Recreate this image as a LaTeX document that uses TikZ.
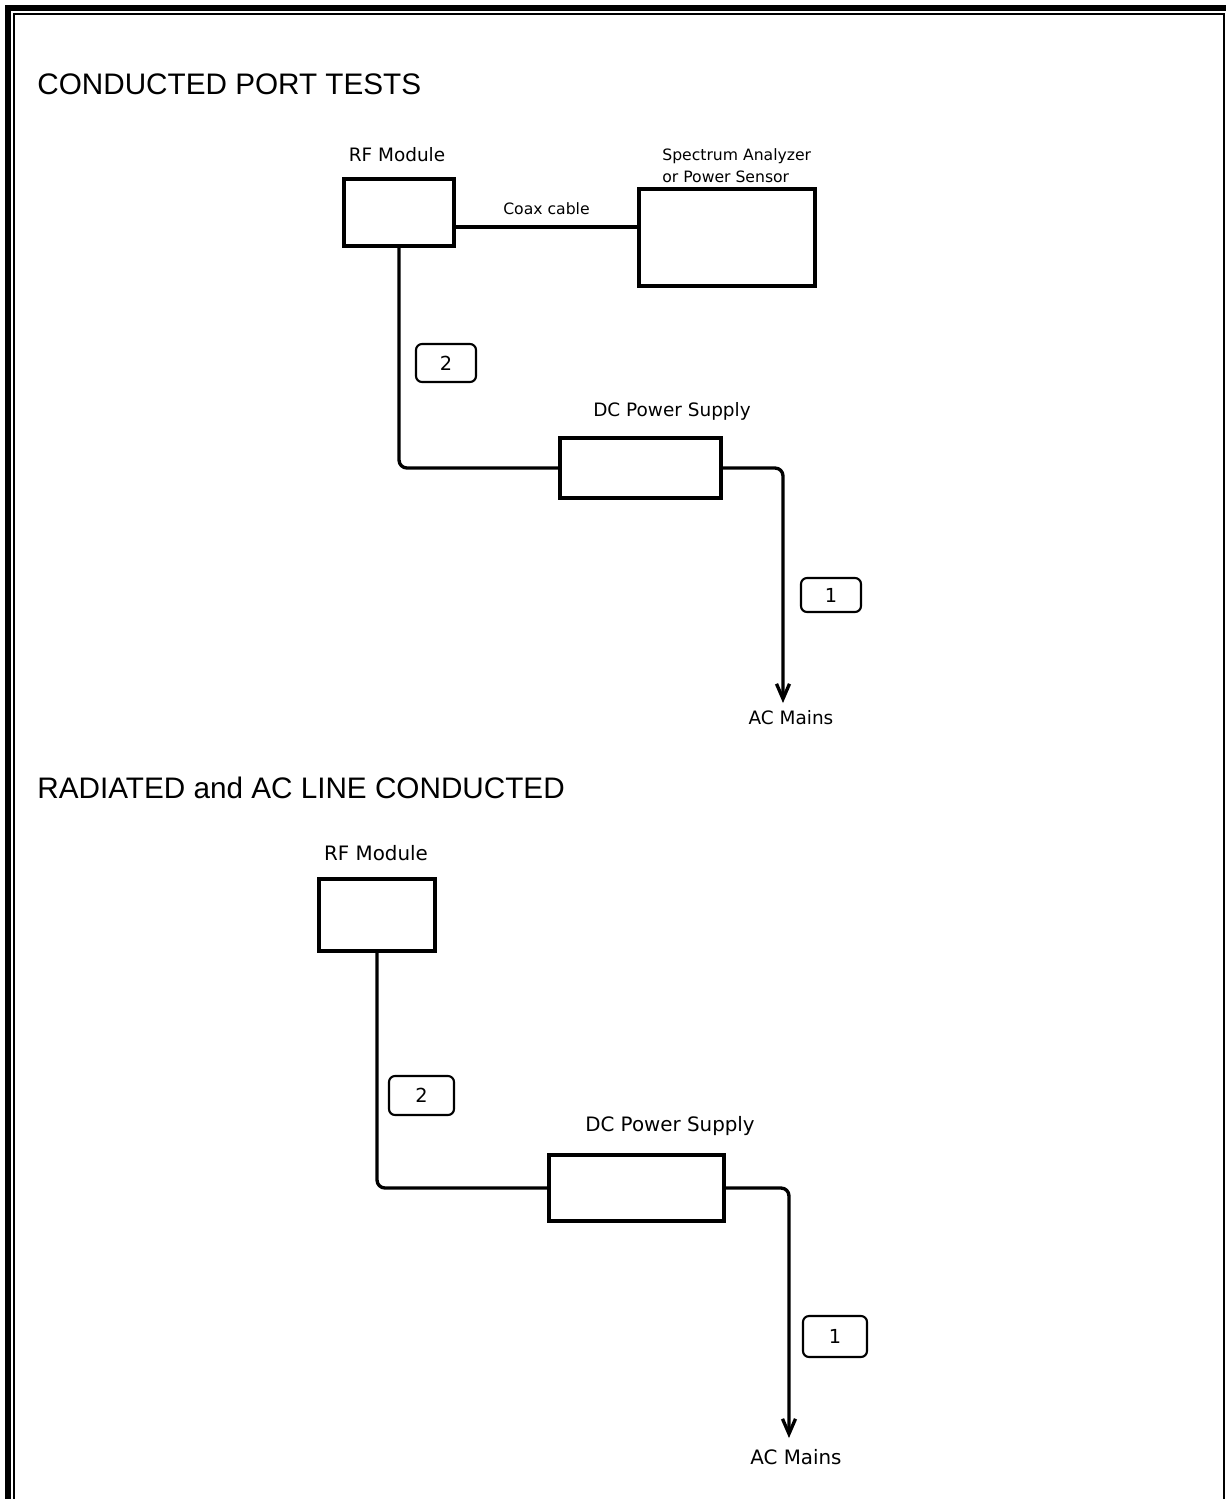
\documentclass[tikz,border=0pt]{standalone}
\usepackage{fontspec}
\setmainfont{Liberation Sans}
\newfontfamily\lblfont{DejaVu Sans}
\usetikzlibrary{arrows.meta, positioning}

\tikzset{
  unit box/.style={draw, line width=2.3pt, inner sep=0pt},
  tagbox/.style={draw, line width=1.2pt, rounded corners=0.12cm, inner sep=0pt,
    minimum width=1.2cm, font=\lblfont\fontsize{11}{13}\selectfont},
  lbl/.style={inner sep=0pt, font=\lblfont\fontsize{10.5}{12}\selectfont},
  heading/.style={inner sep=0pt, anchor=base west, font=\fontsize{16.9}{19}\selectfont},
  wire/.style={line width=1.9pt, rounded corners=0.16cm},
  feed/.style={wire, -{Straight Barb[length=0.3cm, width=0.26cm]}},
}

\begin{document}
\begin{tikzpicture}[x=0.02cm, y=-0.02cm]
  \useasboundingbox (0,0) rectangle (1226,1499);

  % page frame
  \draw[line width=3.4pt] (8,1499) -- (8,8) -- (1226,8);
  \draw[line width=1.1pt] (14,1499) -- (14,14) -- (1224,14) -- (1224,1499);

  % conducted port tests
  \node[heading] (head1) at (37,94) {CONDUCTED PORT TESTS};

  \node[unit box, minimum width=2.2cm, minimum height=1.34cm] (rf1) at (399,212.5) {};
  \node[lbl] (rf1lbl) at (397,155) {RF Module};
  \node[unit box, minimum width=3.52cm, minimum height=1.94cm] (sa1) at (727,237.5) {};
  \node[lbl, anchor=west, align=left, font=\lblfont\fontsize{8.9}{12.4}\selectfont] (sa1lbl) at (662,166)
    {Spectrum Analyzer\\or Power Sensor};
  \node[unit box, minimum width=3.22cm, minimum height=1.2cm] (dc1) at (640.5,468) {};
  \node[lbl] (dc1lbl) at (672,411) {DC Power Supply};
  \node[tagbox, minimum height=0.76cm] (tag2a) at (446,363) {2};
  \node[tagbox, minimum height=0.68cm] (tag1a) at (831,595) {1};
  \coordinate (tip1) at (783,703);
  \node[lbl] (ac1) at (791,718) {AC Mains};

  \draw[line width=2.8pt] (rf1.east |- 0,227) -- (sa1.west |- 0,227)
    node[midway, above=0.2cm, lbl, font=\lblfont\fontsize{8.9}{11}\selectfont] (coax) {Coax cable};
  \draw[wire] (rf1.south) |- (dc1.west);
  \draw[feed] (dc1.east) -| (tip1);

  % radiated and ac line conducted
  \node[heading] (head2) at (37,798) {RADIATED and AC LINE CONDUCTED};

  \node[unit box, minimum width=2.32cm, minimum height=1.44cm] (rf2) at (377,915) {};
  \node[lbl, font=\lblfont\fontsize{11.3}{13}\selectfont] (rf2lbl) at (376,853) {RF Module};
  \node[unit box, minimum width=3.5cm, minimum height=1.32cm] (dc2) at (636.5,1188) {};
  \node[lbl, font=\lblfont\fontsize{11.3}{13}\selectfont] (dc2lbl) at (670,1126) {DC Power Supply};
  \node[tagbox, minimum width=1.3cm, minimum height=0.78cm] (tag2b) at (421.5,1095.5) {2};
  \node[tagbox, minimum width=1.28cm, minimum height=0.82cm] (tag1b) at (835,1336.5) {1};
  \coordinate (tip2) at (789,1438);
  \node[lbl, font=\lblfont\fontsize{11.3}{13}\selectfont] (ac2) at (796,1457) {AC Mains};

  \draw[wire] (rf2.south) |- (dc2.west);
  \draw[feed] (dc2.east) -| (tip2);
\end{tikzpicture}
\end{document}
